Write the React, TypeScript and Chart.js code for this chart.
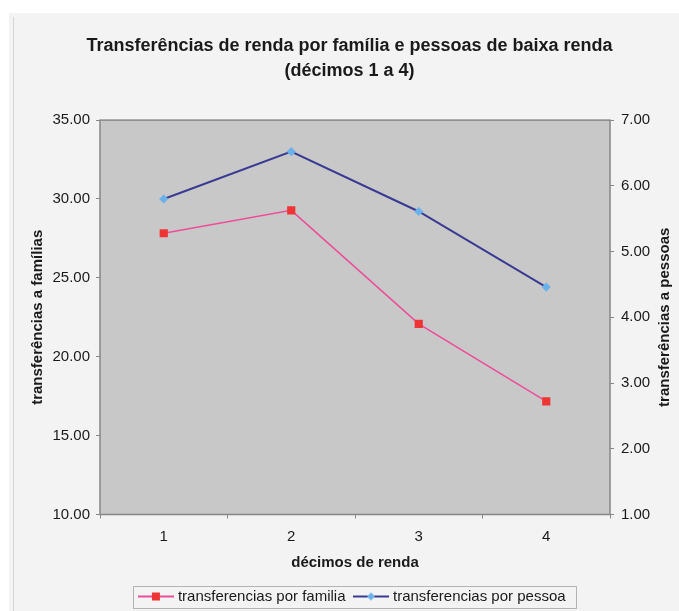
import React, { useEffect, useRef } from 'react';
import { Chart, registerables } from 'chart.js';

Chart.register(...registerables);

const titleLines = ['Transferências de renda por família e pessoas de baixa renda', '(décimos 1 a 4)'];
const categories = ['1', '2', '3', '4'];
const familiaValues = [27.83, 29.28, 22.09, 17.17];
const pessoaValues = [5.8, 6.52, 5.61, 4.46];
const seriesNames = ['transferencias por familia', 'transferencias por pessoa'];
const leftTicks = [10, 15, 20, 25, 30, 35];
const rightTicks = [1, 2, 3, 4, 5, 6, 7];
const xTitle = 'décimos de renda';
const leftTitle = 'transferências a famílias';
const rightTitle = 'transferências a pessoas';

const FONT = "'Liberation Sans', Arial, Helvetica, sans-serif";
const TEXT = '#1a1a1a';

function makeLegendIcon(lineColor: string, markerColor: string, kind: 'square' | 'diamond') {
  const c = document.createElement('canvas');
  c.width = 36;
  c.height = 12;
  const ctx = c.getContext('2d')!;
  ctx.strokeStyle = lineColor;
  ctx.lineWidth = 2;
  ctx.beginPath();
  ctx.moveTo(0, 6);
  ctx.lineTo(36, 6);
  ctx.stroke();
  ctx.fillStyle = markerColor;
  if (kind === 'square') {
    ctx.fillRect(14, 2, 8, 8);
  } else {
    ctx.beginPath();
    ctx.moveTo(18, 2);
    ctx.lineTo(22, 6);
    ctx.lineTo(18, 10);
    ctx.lineTo(14, 6);
    ctx.closePath();
    ctx.fill();
  }
  return c;
}

export default function App() {
  const ref = useRef<HTMLCanvasElement | null>(null);

  useEffect(() => {
    if (!ref.current) return;
    const famColor = '#ee4c98';
    const famMarker = '#ee3535';
    const pesColor = '#3a3a94';
    const pesMarker = '#6cb2ea';
    const icons = [
      makeLegendIcon(famColor, famMarker, 'square'),
      makeLegendIcon(pesColor, pesMarker, 'diamond'),
    ];

    const bgPlugin = {
      id: 'bgPlugin',
      beforeDraw(chart: any) {
        const { ctx, width, height } = chart;
        ctx.save();
        ctx.fillStyle = '#ffffff';
        ctx.fillRect(0, 0, width, height);
        ctx.fillStyle = '#f2f3f2';
        ctx.fillRect(9, 13, width - 9, height - 13);
        ctx.strokeStyle = '#d4d4d4';
        ctx.lineWidth = 1;
        ctx.beginPath();
        ctx.moveTo(13.5, 17);
        ctx.lineTo(13.5, height);
        ctx.stroke();
        ctx.restore();
      },
      beforeDatasetsDraw(chart: any) {
        const { ctx, chartArea } = chart;
        const { left, top, right, bottom } = chartArea;
        ctx.save();
        ctx.fillStyle = '#c8c8c8';
        ctx.fillRect(left, top, right - left, bottom - top);
        ctx.strokeStyle = '#878787';
        ctx.lineWidth = 1.5;
        ctx.strokeRect(left, top, right - left, bottom - top);
        ctx.restore();
      },
      afterLayout(chart: any) {
        const lg = chart.legend;
        if (lg) {
          lg.left += 14;
          lg.right += 14;
        }
        const tb = chart.titleBlock;
        if (tb) {
          tb.left += 10;
          tb.right += 10;
        }
      },
      afterDraw(chart: any) {
        const { ctx, chartArea } = chart;
        ctx.save();
        ctx.fillStyle = TEXT;
        ctx.font = `bold 15px ${FONT}`;
        ctx.textAlign = 'center';
        ctx.textBaseline = 'middle';
        ctx.translate(665, (chartArea.top + chartArea.bottom) / 2);
        ctx.rotate(-Math.PI / 2);
        ctx.fillText(rightTitle, 0, 0);
        ctx.restore();

        const lg = chart.legend;
        if (lg && lg.legendHitBoxes && lg.legendHitBoxes.length) {
          const hb = lg.legendHitBoxes;
          const first = hb[0];
          const last = hb[hb.length - 1];
          const cy = first.top + first.height / 2;
          const l = Math.round(first.left - 8.5) + 0.5;
          const r = Math.round(last.left + last.width + 10) + 0.5;
          const t = Math.round(cy - 11) + 0.5;
          const b = Math.round(cy + 11) + 0.5;
          ctx.save();
          ctx.strokeStyle = '#b4b4b4';
          ctx.lineWidth = 1;
          ctx.strokeRect(l, t, r - l, b - t);
          ctx.restore();
        }
      },
    };

    const chart = new Chart(ref.current, {
      type: 'line',
      data: {
        labels: categories,
        datasets: [
          {
            label: seriesNames[0],
            data: familiaValues,
            yAxisID: 'y',
            borderColor: famColor,
            backgroundColor: famMarker,
            borderWidth: 1.5,
            pointStyle: 'rect',
            pointRadius: 5.8,
            pointBorderWidth: 0,
            pointBackgroundColor: famMarker,
            pointBorderColor: famMarker,
            tension: 0,
            fill: false,
          },
          {
            label: seriesNames[1],
            data: pessoaValues,
            yAxisID: 'y1',
            borderColor: pesColor,
            backgroundColor: pesMarker,
            borderWidth: 2,
            pointStyle: 'rectRot',
            pointRadius: 4.6,
            pointBorderWidth: 0,
            pointBackgroundColor: pesMarker,
            pointBorderColor: pesMarker,
            tension: 0,
            fill: false,
          },
        ],
      },
      options: {
        animation: false,
        responsive: false,
        maintainAspectRatio: false,
        layout: { padding: { left: 0, right: 0, top: 0, bottom: 0 } },
        plugins: {
          title: {
            display: true,
            text: titleLines,
            color: TEXT,
            font: { family: FONT, size: 18, weight: 'bold', lineHeight: 1.42 },
            padding: { top: 33, bottom: 36 },
          },
          legend: {
            display: true,
            position: 'bottom',
            align: 'center',
            labels: {
              color: TEXT,
              font: { family: FONT, size: 15 },
              usePointStyle: true,
              pointStyleWidth: 29,
              padding: 11,
              generateLabels: () =>
                seriesNames.map((name, i) => ({
                  text: name,
                  pointStyle: icons[i] as any,
                  fillStyle: 'transparent',
                  strokeStyle: 'transparent',
                  lineWidth: 0,
                  hidden: false,
                  datasetIndex: i,
                  fontColor: TEXT,
                })),
            },
          },
          tooltip: { enabled: false },
        },
        scales: {
          x: {
            type: 'category',
            offset: true,
            afterFit: (s: any) => {
              s.height = 63.5;
            },
            grid: {
              offset: true,
              drawOnChartArea: false,
              drawTicks: true,
              tickLength: 4,
              color: '#878787',
            },
            border: { display: false },
            ticks: {
              color: TEXT,
              font: { family: FONT, size: 15 },
              padding: 9,
              maxRotation: 0,
            },
            title: {
              display: true,
              text: xTitle,
              color: TEXT,
              font: { family: FONT, size: 15, weight: 'bold', lineHeight: 1.2 },
              padding: { top: 0, bottom: 6 },
            },
          },
          y: {
            type: 'linear',
            position: 'left',
            min: leftTicks[0],
            max: leftTicks[leftTicks.length - 1],
            afterFit: (s: any) => {
              s.width = 100;
            },
            afterBuildTicks: (s: any) => {
              s.ticks = leftTicks.map((v) => ({ value: v }));
            },
            grid: {
              drawOnChartArea: false,
              drawTicks: true,
              tickLength: 4,
              color: '#878787',
            },
            border: { display: false },
            ticks: {
              color: TEXT,
              font: { family: FONT, size: 15 },
              padding: 6,
              callback: (v: any) => Number(v).toFixed(2),
            },
            title: {
              display: true,
              text: leftTitle,
              color: TEXT,
              font: { family: FONT, size: 15, weight: 'bold', lineHeight: 1.2 },
              padding: { top: 29, bottom: 0 },
            },
          },
          y1: {
            type: 'linear',
            position: 'right',
            min: rightTicks[0],
            max: rightTicks[rightTicks.length - 1],
            afterFit: (s: any) => {
              s.width = 69;
            },
            afterBuildTicks: (s: any) => {
              s.ticks = rightTicks.map((v) => ({ value: v }));
            },
            grid: {
              drawOnChartArea: false,
              drawTicks: true,
              tickLength: 4,
              color: '#878787',
            },
            border: { display: false },
            ticks: {
              color: TEXT,
              font: { family: FONT, size: 15 },
              padding: 7,
              callback: (v: any) => Number(v).toFixed(2),
            },
          },
        },
      } as any,
      plugins: [bgPlugin],
    });

    return () => {
      chart.destroy();
    };
  }, []);

  return (
    <div style={{ position: 'fixed', left: 0, top: 0, width: 679, height: 614 }}>
      <canvas ref={ref} width={679} height={614} style={{ display: 'block', width: 679, height: 614 }} />
    </div>
  );
}
